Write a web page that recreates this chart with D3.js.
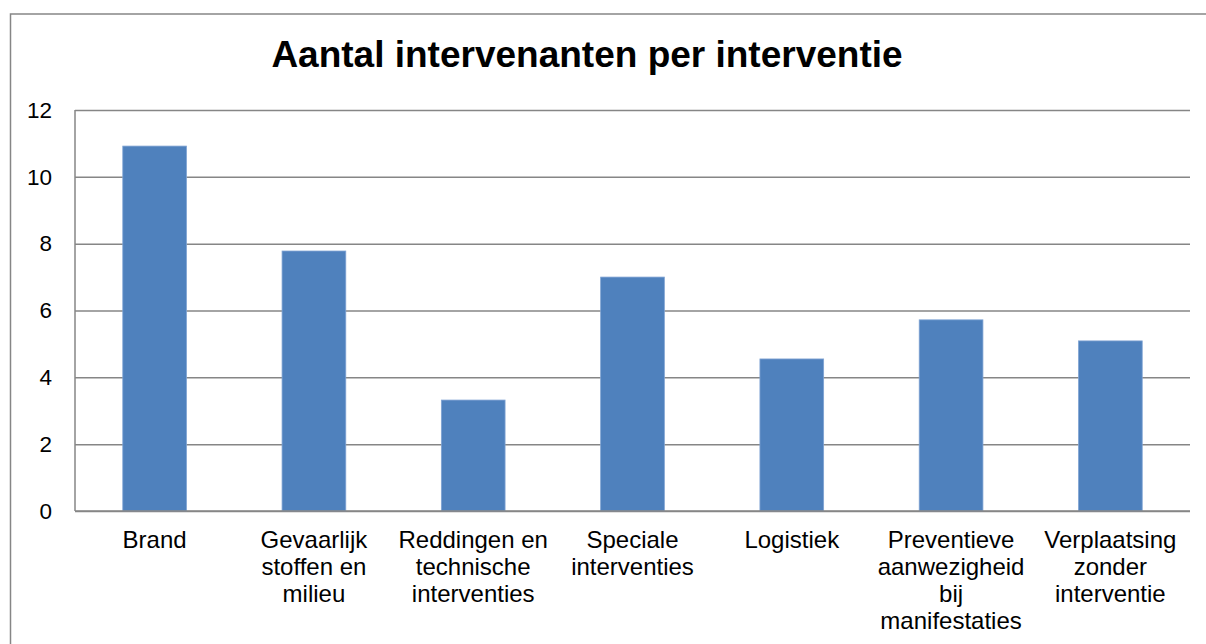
<!DOCTYPE html>
<html>
<head>
<meta charset="utf-8">
<script src="https://cdn.jsdelivr.net/npm/d3@7"></script>
<style>
  body { margin: 0; background: #fff; }
  svg { display: block; font-family: "Liberation Sans", Arial, sans-serif; }
</style>
</head>
<body>
<svg id="chart" width="1206" height="644"></svg>
<script>
const title = 'Aantal intervenanten per interventie';

const categories = [
  'Brand',
  'Gevaarlijk\nstoffen en\nmilieu',
  'Reddingen en\ntechnische\ninterventies',
  'Speciale\ninterventies',
  'Logistiek',
  'Preventieve\naanwezigheid\nbij\nmanifestaties',
  'Verplaatsing\nzonder\ninterventie'
];

const values = [10.92, 7.78, 3.32, 7.0, 4.55, 5.72, 5.09];

const yTicks = [0, 2, 4, 6, 8, 10, 12];

const svg = d3.select('#chart');

const plot = { left: 75, right: 1190, top: 110, bottom: 511 };

// outer frame
svg.append('rect')
  .attr('x', 10.5)
  .attr('y', 14)
  .attr('width', 1200)
  .attr('height', 640)
  .attr('fill', 'none')
  .attr('stroke', '#868686')
  .attr('stroke-width', 1.5);

svg.append('text')
  .attr('x', 587)
  .attr('y', 67)
  .attr('text-anchor', 'middle')
  .attr('font-size', 37)
  .attr('font-weight', 'bold')
  .attr('fill', '#000')
  .text(title);

const x = d3.scaleBand()
  .domain(categories)
  .range([plot.left, plot.right])
  .paddingInner(0.6)
  .paddingOuter(0.3);

const y = d3.scaleLinear()
  .domain([0, 12])
  .range([plot.bottom, plot.top]);

// gridlines + y labels
const yAxis = svg.append('g')
  .attr('transform', `translate(${plot.left},0)`)
  .call(d3.axisLeft(y).tickValues(yTicks).tickSize(-(plot.right - plot.left)).tickPadding(23));

yAxis.select('.domain').remove();
yAxis.selectAll('.tick line')
  .attr('stroke', '#868686')
  .attr('stroke-width', 1.5);
yAxis.selectAll('.tick text')
  .attr('font-size', 22.5)
  .attr('font-family', '"Liberation Sans", Arial, sans-serif')
  .attr('fill', '#000');

// left axis line
svg.append('line')
  .attr('x1', plot.left).attr('x2', plot.left)
  .attr('y1', plot.top).attr('y2', plot.bottom)
  .attr('stroke', '#868686')
  .attr('stroke-width', 1.5);

// bars
svg.append('g')
  .selectAll('rect')
  .data(values)
  .enter()
  .append('rect')
  .attr('x', (d, i) => x(categories[i]))
  .attr('y', d => y(d))
  .attr('width', x.bandwidth())
  .attr('height', d => y(0) - y(d))
  .attr('fill', '#4F81BD')
  .attr('stroke', '#7fa3d3')
  .attr('stroke-width', 0.8);

// baseline over bars
svg.append('line')
  .attr('x1', plot.left).attr('x2', plot.right)
  .attr('y1', y(0)).attr('y2', y(0))
  .attr('stroke', '#868686')
  .attr('stroke-width', 1.5);

// category labels
const labels = svg.append('g')
  .selectAll('text')
  .data(categories)
  .enter()
  .append('text')
  .attr('x', d => x(d) + x.bandwidth() / 2)
  .attr('y', 548)
  .attr('text-anchor', 'middle')
  .attr('font-size', 24)
  .attr('fill', '#000');

labels.each(function (d) {
  const lines = d.split('\n');
  d3.select(this).selectAll('tspan')
    .data(lines)
    .enter()
    .append('tspan')
    .attr('x', d3.select(this).attr('x'))
    .attr('dy', (l, i) => i === 0 ? 0 : 27)
    .text(l => l);
});
</script>
</body>
</html>
